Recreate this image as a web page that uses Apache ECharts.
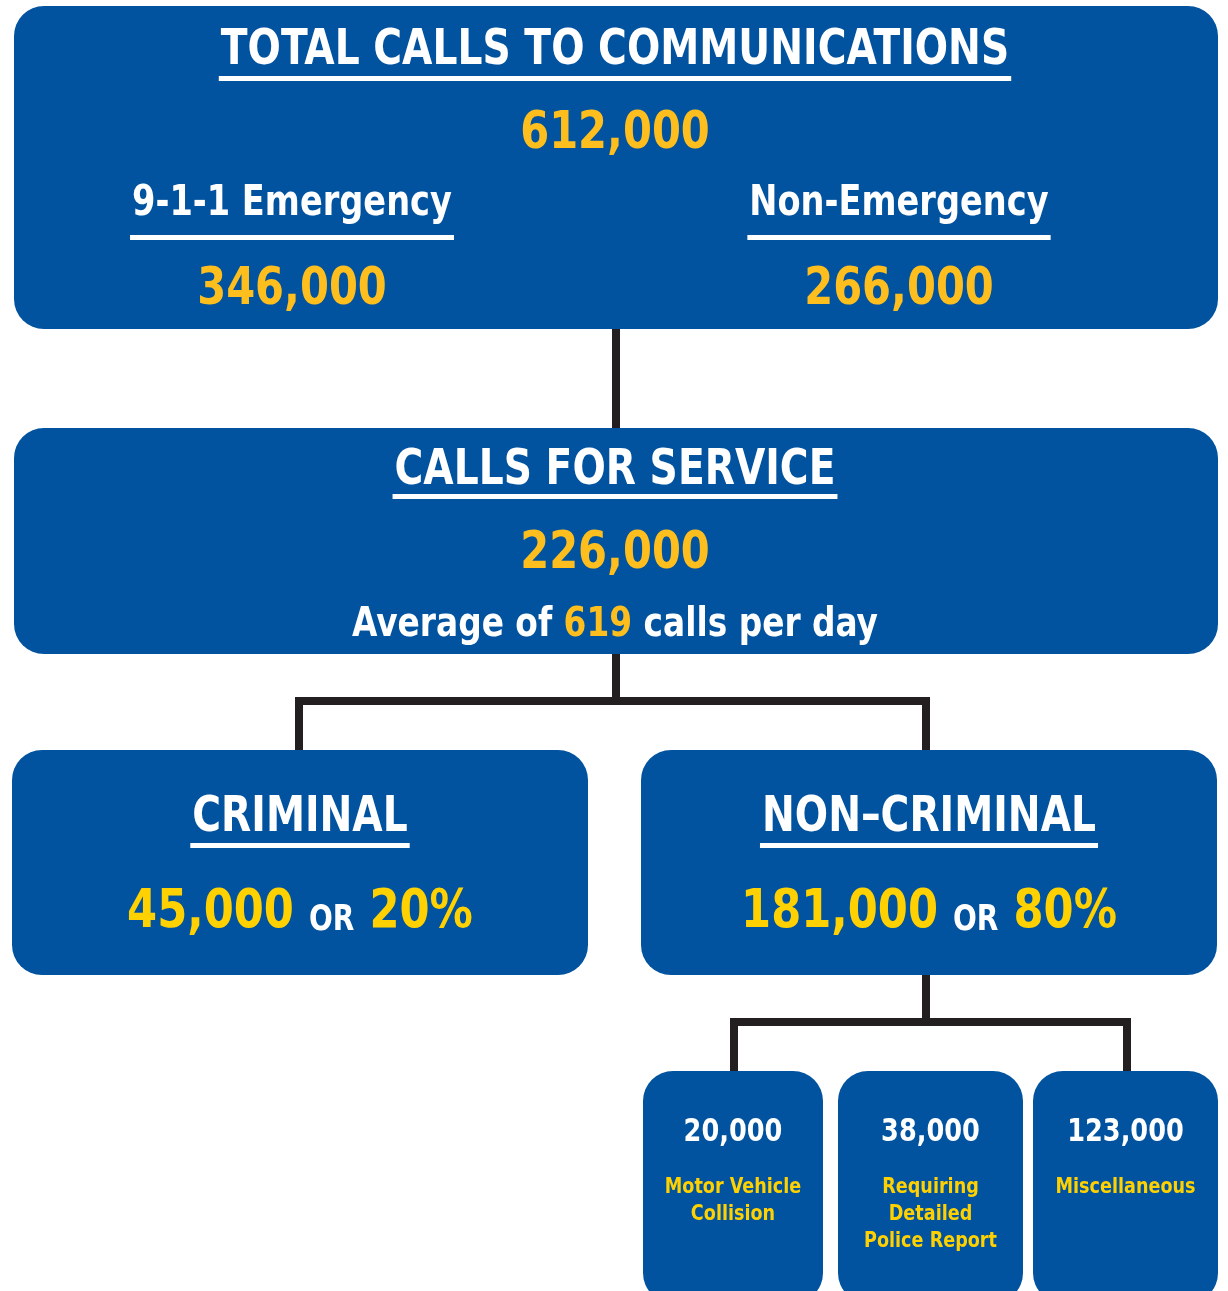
<!DOCTYPE html>
<html>
<head>
<meta charset="utf-8">
<script src="https://cdn.jsdelivr.net/npm/echarts@6/dist/echarts.min.js"></script>
<style>
html, body { margin: 0; padding: 0; background: #fff; }
#main { width: 1228px; height: 1291px; }
</style>
</head>
<body>
<div id="main"></div>
<script>
// ==============================
// Data
// ==============================

const headings = ['TOTAL CALLS TO COMMUNICATIONS', 'CALLS FOR SERVICE'];
const headingValues = [612000, 226000];

const lineCategories = ['9-1-1 Emergency', 'Non-Emergency'];
const lineValues = [346000, 266000];

const callsPerDay = 619;

const typeCategories = ['CRIMINAL', 'NON–CRIMINAL'];
const typeValues = [45000, 181000];
const typeShares = [20, 80];

const subCategories = ['Motor Vehicle\nCollision', 'Requiring\nDetailed\nPolice Report', 'Miscellaneous'];
const subValues = [20000, 38000, 123000];


// ==============================
// Styles
// ==============================

const BLUE = '#02539F';
const GOLD = '#FDBE1E';
const YELLOW = '#FFD100';
const INK = '#231F20';
const FONT = '"DejaVu Sans Condensed", "Noto Sans", sans-serif';
// the original face is a narrow one: squeeze the text sideways
const SQUEEZE = 0.89;

function font(size, weight){
    return (weight || 'bold') + ' ' + size + 'px ' + FONT;
}

const fmt = v => v.toLocaleString('en-US');

const measureCtx = document.createElement('canvas').getContext('2d');
function measure(text, f){
    measureCtx.font = f;
    return measureCtx.measureText(text).width;
}


// ==============================
// Building blocks
// ==============================

const elements = [];

function wire(points){
    elements.push({
        type: 'polyline',
        shape: { points: points },
        style: { stroke: INK, lineWidth: 8, fill: null, lineJoin: 'miter' }
    });
}

function box(x, y, w, h){
    elements.push({
        type: 'rect',
        shape: { x: x, y: y, width: w, height: h, r: 30 },
        style: { fill: BLUE }
    });
}

function label(text, cx, cy, size, color, weight, extra){
    elements.push({
        type: 'text',
        x: cx,
        y: cy,
        scaleX: SQUEEZE,
        style: Object.assign({
            text: text,
            x: 0,
            y: 0,
            font: font(size, weight),
            fill: color,
            align: 'center',
            verticalAlign: 'middle',
            textAlign: 'center',
            textVerticalAlign: 'middle'
        }, extra || {})
    });
}

function heading(text, cx, cy, size, lineY){
    label(text, cx, cy, size, '#fff');
    const w = measure(text, font(size)) * SQUEEZE + 4;
    elements.push({
        type: 'rect',
        shape: { x: cx - w / 2, y: lineY, width: w, height: 5 },
        style: { fill: '#fff' }
    });
}


// ==============================
// Connectors
// ==============================

wire([[616, 329], [616, 430]]);
wire([[616, 652], [616, 701], [299, 701], [299, 752]]);
wire([[616, 701], [926, 701], [926, 752]]);
wire([[926, 973], [926, 1022], [734, 1022], [734, 1073]]);
wire([[926, 1022], [1127, 1022], [1127, 1073]]);


// ==============================
// Top box
// ==============================

box(14, 6, 1204, 323);
heading(headings[0], 615, 51, 49, 76);
label(fmt(headingValues[0]), 615, 134, 52, GOLD);

const lineCx = [292, 899];
lineCategories.forEach((name, i) => {
    heading(name, lineCx[i], 204, 42, 235);
    label(fmt(lineValues[i]), lineCx[i], 290, 52, GOLD);
});


// ==============================
// Calls for service
// ==============================

box(14, 428, 1204, 226);
heading(headings[1], 615, 471, 49, 494);
label(fmt(headingValues[1]), 615, 554, 52, GOLD);
label('Average of {y|' + callsPerDay + '} calls per day', 615, 625, 41, '#fff', 'bold', {
    rich: {
        y: { fill: GOLD, font: font(41) }
    }
});


// ==============================
// Criminal / Non-criminal
// ==============================

const typeX = [12, 641];
typeCategories.forEach((name, i) => {
    const cx = typeX[i] + 288;
    box(typeX[i], 750, 576, 225);
    heading(name, cx, 818, 49, 843);
    label('{y|' + fmt(typeValues[i]) + '} {w|OR} {y|' + typeShares[i] + '%}', cx, 913, 54, YELLOW, 'bold', {
        rich: {
            y: { fill: YELLOW, font: font(54), verticalAlign: 'bottom' },
            w: { fill: '#fff', font: font(35), verticalAlign: 'bottom', padding: [0, 0, 2, 0] }
        }
    });
});


// ==============================
// Non-criminal breakdown
// ==============================

const subX = [643, 838, 1033];
const subW = [180, 185, 185];
subCategories.forEach((name, i) => {
    const cx = subX[i] + subW[i] / 2;
    box(subX[i], 1071, subW[i], 232);
    label(fmt(subValues[i]), cx, 1133, 32, '#fff');
    label(name, cx, 1174, 22, YELLOW, 'bold', {
        verticalAlign: 'top',
        textVerticalAlign: 'top',
        lineHeight: 27
    });
});


// ==============================
// ECharts
// ==============================

const myChart = echarts.init(document.getElementById('main'));

myChart.setOption({
    backgroundColor: '#fff',
    animation: false,
    graphic: { elements: elements }
});
</script>
</body>
</html>
